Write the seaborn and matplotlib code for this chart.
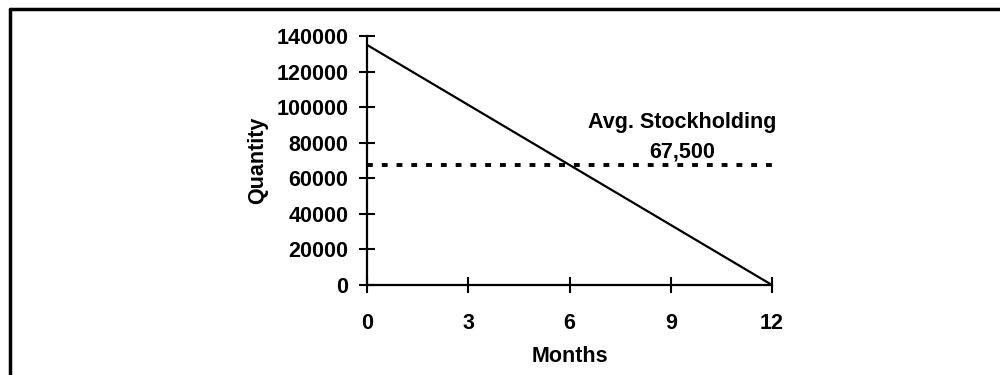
import matplotlib
matplotlib.use("Agg")
import matplotlib.pyplot as plt
import seaborn as sns
import pandas as pd
from matplotlib.lines import Line2D

# data
months = [0, 12]
quantity = [135000, 0]
avg_stock = 67500
x_ticks = [0, 3, 6, 9, 12]
y_ticks = [0, 20000, 40000, 60000, 80000, 100000, 120000, 140000]

sns.set_style("white")
plt.rcParams["font.family"] = ["Liberation Sans", "DejaVu Sans"]
plt.rcParams["font.weight"] = "bold"
plt.rcParams["text.color"] = "black"
plt.rcParams["axes.labelcolor"] = "black"
plt.rcParams["xtick.color"] = "black"
plt.rcParams["ytick.color"] = "black"

fs = 15.5

fig = plt.figure(figsize=(10, 3.75), dpi=100)
ax = fig.add_axes([0.367, 0.24, 0.405, 0.664])

df = pd.DataFrame({"Months": months, "Quantity": quantity})
sns.lineplot(data=df, x="Months", y="Quantity", ax=ax, color="black", linewidth=1.6)
ax.plot([months[0], months[-1]], [avg_stock, avg_stock], color="black",
        linewidth=2.8, linestyle=(0, (1.5, 2.3)))

ax.text(9.33, 91600, "Avg. Stockholding", ha="center", va="center", fontsize=fs, fontweight="bold")
ax.text(9.33, 74700, f"{avg_stock:,}", ha="center", va="center", fontsize=fs, fontweight="bold")

ax.set_xlim(0, 12)
ax.set_ylim(0, 140000)
ax.set_xticks(x_ticks)
ax.set_yticks(y_ticks)
ax.set_xticklabels([str(t) for t in x_ticks], fontsize=fs, fontweight="bold")
ax.set_yticklabels([str(t) for t in y_ticks], fontsize=fs, fontweight="bold")
ax.tick_params(axis="both", direction="inout", length=11, width=1.5, color="black",
               bottom=True, left=True)
ax.tick_params(axis="x", pad=15)
ax.tick_params(axis="y", pad=8)

for s in ["top", "right"]:
    ax.spines[s].set_visible(False)
for s in ["left", "bottom"]:
    ax.spines[s].set_color("black")
    ax.spines[s].set_linewidth(1.6)

ax.set_xlabel("Months", fontsize=fs, fontweight="bold", labelpad=8)
ax.set_ylabel("Quantity", fontsize=fs, fontweight="bold", labelpad=6)

# frame around the chart area (only top and left visible in the crop)
fig.add_artist(Line2D([0.01, 1.0], [0.976, 0.976], transform=fig.transFigure, color="black", linewidth=2.5))
fig.add_artist(Line2D([0.01, 0.01], [0.0, 0.976], transform=fig.transFigure, color="black", linewidth=2.5))

fig.savefig("out.png", dpi=100)
